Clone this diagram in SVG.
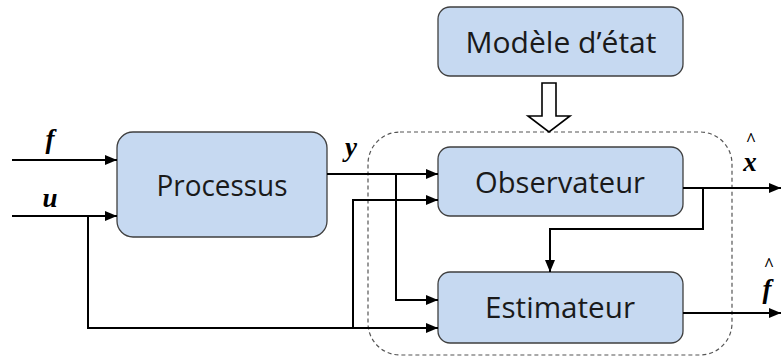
<svg xmlns="http://www.w3.org/2000/svg" width="781" height="358" viewBox="0 0 781 358">
<style>
.box{fill:#c6d9f1;stroke:#3f3f3f;stroke-width:1.3}
.bt{font-family:"Open Sans","Liberation Sans",sans-serif;font-size:29px;fill:#1a1a1a;text-anchor:middle}
.ln{fill:none;stroke:#000;stroke-width:2}
.lab{font-family:"Liberation Serif",serif;font-style:italic;font-weight:bold;font-size:27px;fill:#000;text-anchor:middle}
.hat{font-family:"Liberation Serif",serif;font-weight:bold;font-size:18px;fill:#000;text-anchor:middle}
</style>
<defs>
<marker id="ah" viewBox="0 0 12 10" refX="12" refY="5" markerWidth="12" markerHeight="10" markerUnits="userSpaceOnUse" orient="auto">
<path d="M0,0 L12,5 L0,10 Z" fill="#000"/>
</marker>
</defs>
<rect x="368" y="132" width="364" height="223" rx="32" fill="none" stroke="#555" stroke-width="1.2" stroke-dasharray="4,3"/>
<g id="processus"><rect class="box" x="117" y="132" width="210" height="105" rx="16"/><text class="bt" x="222" y="196" textLength="131" lengthAdjust="spacingAndGlyphs">Processus</text></g>
<g id="modele"><rect class="box" x="438" y="7" width="245" height="69" rx="12"/><text class="bt" x="561" y="53" textLength="191" lengthAdjust="spacingAndGlyphs">Modèle d’état</text></g>
<g id="observateur"><rect class="box" x="438" y="147" width="245" height="69" rx="12"/><text class="bt" x="560" y="193" textLength="170" lengthAdjust="spacingAndGlyphs">Observateur</text></g>
<g id="estimateur"><rect class="box" x="438" y="272" width="245" height="71" rx="12"/><text class="bt" x="560" y="318" textLength="150" lengthAdjust="spacingAndGlyphs">Estimateur</text></g>
<g id="connectors">
<path class="ln" d="M12,160 H117" marker-end="url(#ah)"/>
<path class="ln" d="M12,216 H117" marker-end="url(#ah)"/>
<path class="ln" d="M88,216 V328 H438" marker-end="url(#ah)"/>
<path class="ln" d="M327,174 H438" marker-end="url(#ah)"/>
<path class="ln" d="M396,174 V300 H438" marker-end="url(#ah)"/>
<path class="ln" d="M353,328 V200 H438" marker-end="url(#ah)"/>
<path class="ln" d="M683,188 H781" marker-end="url(#ah)"/>
<path class="ln" d="M703,188 V229 H550 V272" marker-end="url(#ah)"/>
<path class="ln" d="M683,313 H781" marker-end="url(#ah)"/>
<path d="M542,83 H556 V116 H570 L549,132 L528,116 H542 Z" fill="#fff" stroke="#000" stroke-width="1.6"/>
</g>
<text class="lab" x="50" y="148" font-size="29">f</text>
<text class="lab" x="50" y="207">u</text>
<text class="lab" x="351" y="156">y</text>
<text class="lab" x="750" y="171">x</text>
<text class="hat" x="751" y="146">^</text>
<text class="lab" x="767" y="298" font-size="29">f</text>
<text class="hat" x="769" y="271">^</text>
</svg>
